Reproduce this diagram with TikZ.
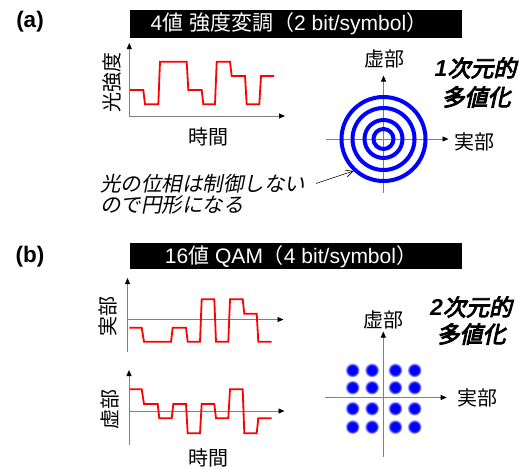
\documentclass[tikz,border=0pt]{standalone}
\usepackage{fontspec}
\setmainfont{Liberation Sans}
\newfontfamily\jp{Noto Sans CJK JP}
\newfontfamily\jpi[FakeSlant=0.2]{Noto Sans CJK JP}
\newfontfamily\jpbi[FakeSlant=0.22,FakeBold=4]{Noto Sans CJK JP}
\usetikzlibrary{arrows.meta}
\pgfdeclareradialshading{dotshade}{\pgfpoint{0bp}{0bp}}{color(0bp)=(blue); color(16bp)=(blue); color(25bp)=(white); color(50bp)=(white)}
\begin{document}
\begin{tikzpicture}[x=1pt,y=-1pt,
  axis/.style={draw=black!50, line width=0.8pt, -{Triangle[length=6pt,width=5pt,color=black]}},
  axisplain/.style={draw=black!50, line width=0.8pt},
  sig/.style={draw=red, line width=1.8pt, line join=miter},
  ring/.style={draw=blue, line width=4pt},
  lbl/.style={font=\fontsize{20}{22}\selectfont\jp, inner sep=0pt},
  ttl/.style={font=\fontsize{21}{24}\selectfont, text=white, inner sep=0pt},
  panel/.style={font=\fontsize{22.5}{24}\selectfont\bfseries, inner sep=0pt},
  big/.style={font=\fontsize{23}{25}\selectfont, inner sep=0pt},
  note/.style={font=\fontsize{20.5}{22}\selectfont\jpi, inner sep=0pt, align=left},
  dot/.style={shading=dotshade}
]
\useasboundingbox (0,0) rectangle (527,469);
\fill[white] (0,0) rectangle (527,469);

% ---------------- (a) ----------------
\node[panel] (pa) at (30,22) {(a)};
\fill[black] (130,10) rectangle (462,38);
\node[ttl] (ta) at (289,24) {4{\jp 値} {\jp 強度変調（}2 bit/symbol{\jp ）}};

% intensity graph
\coordinate (ao) at (129.3,116);
\draw[axis] (ao) -- (129.3,43);
\draw[axis] (ao) -- (285,116);
\draw[sig] (130,90) -- (143.3,90) -- (145,104.3) -- (158.3,104.3) -- (160,61.7) -- (186.7,61.7) -- (188.3,90) -- (201.7,90) -- (203.3,104.3) -- (215,104.3) -- (216.7,61.7) -- (230,61.7) -- (231.7,76) -- (245,76) -- (246.7,104.3) -- (259.3,104.3) -- (261,76) -- (274,76);
\node[lbl, rotate=90] (yla) at (111.7,82.5) {光強度};
\node[lbl] (xla) at (208,137) {時間};

% rings constellation
\coordinate (ca) at (383.5,139);
\draw[axisplain] (383.5,193) -- (ca);
\draw[axis] (ca) -- (383.5,75.5);
\draw[axisplain] (325.5,139) -- (ca);
\draw[axis] (ca) -- (448.5,139);
\foreach \r in {10,19,31,42} \draw[ring] (ca) circle (\r);
\node[lbl] (ima) at (384.5,59) {虚部};
\node[lbl] (rea) at (474,142) {実部};
\node[big] (d1a) at (475.5,68) {{\bfseries\itshape 1}{\jpbi 次元的}};
\node[big] (d2a) at (476,97) {\jpbi 多値化};

\node[note, anchor=west] (nt) at (100,194) {光の位相は制御しない\\[-1pt]ので円形になる};
\coordinate (nts) at (316,183.5);
\coordinate (rgp) at (353.5,171);
\draw[line width=0.6pt, -{Straight Barb[length=7pt,width=7pt]}] (nts) -- (rgp);

% ---------------- (b) ----------------
\node[panel] (pb) at (30,257) {(b)};
\fill[black] (130,243.3) rectangle (462,269.3);
\node[ttl] (tb) at (291,256.3) {16{\jp 値} QAM{\jp （}4 bit/symbol{\jp ）}};

% real part graph
\coordinate (bo1) at (127.5,319.5);
\draw[axisplain] (127.5,352) -- (bo1);
\draw[axis] (bo1) -- (127.5,278);
\draw[axis] (bo1) -- (283.5,319.5);
\draw[sig] (129.3,327.7) -- (141.7,327.7) -- (144,341.7) -- (171,341.7) -- (172.7,327.7) -- (186,327.7) -- (187.7,341.7) -- (200,341.7) -- (201.7,299.3) -- (214.3,299.3) -- (216,341.7) -- (228.3,341.7) -- (230,299.3) -- (242.7,299.3) -- (244.3,313.7) -- (256.7,313.7) -- (258.3,341.7) -- (271.7,341.7);
\node[lbl, rotate=90] (ylb1) at (108.3,316.7) {実部};

% imaginary part graph
\coordinate (bo2) at (129,411);
\draw[axisplain] (129,445) -- (bo2);
\draw[axis] (bo2) -- (129,370);
\draw[axis] (bo2) -- (284.5,411);
\draw[sig] (129.5,389.3) -- (141.7,389.3) -- (144,404) -- (157.7,404) -- (159.3,418.3) -- (171.7,418.3) -- (173.3,404) -- (186,404) -- (187.7,433.3) -- (200,433.3) -- (201.7,404) -- (214.3,404) -- (216,418.3) -- (228.3,418.3) -- (230,389.3) -- (242.7,389.3) -- (244.3,433.3) -- (256.7,433.3) -- (258.3,418.3) -- (271.7,418.3);
\node[lbl, rotate=90] (ylb2) at (110,409) {虚部};
\node[lbl] (xlb) at (208.3,458.3) {時間};

% QAM constellation
\coordinate (cb) at (383.3,397.5);
\draw[axisplain] (383.3,457) -- (cb);
\draw[axis] (cb) -- (383.3,331.5);
\draw[axisplain] (325,397.5) -- (cb);
\draw[axis] (cb) -- (446.7,397.5);
\foreach \x in {352.3,371.7,395,414.3}
  \foreach \y in {370,387.3,408.3,426.7}
    \shade[dot] (\x,\y) circle (7.4);
\node[lbl] (imb) at (383.3,320) {虚部};
\node[lbl] (reb) at (477,398.3) {実部};
\node[big] (d1b) at (471,307) {{\bfseries\itshape 2}{\jpbi 次元的}};
\node[big] (d2b) at (471,334) {\jpbi 多値化};
\end{tikzpicture}
\end{document}
